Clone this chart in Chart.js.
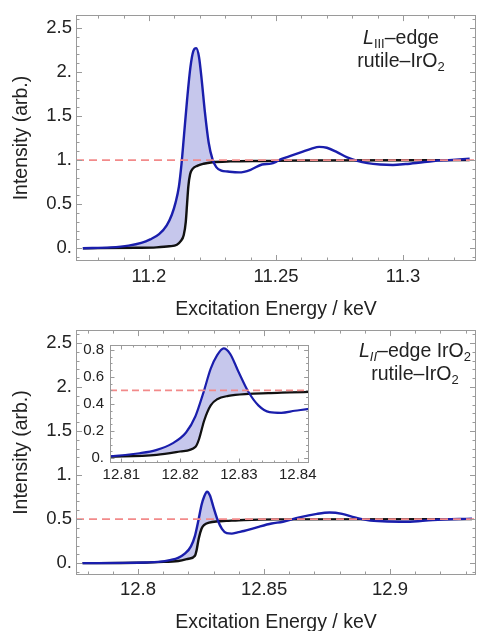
<!DOCTYPE html>
<html><head><meta charset="utf-8">
<script src="https://cdn.jsdelivr.net/npm/chart.js@4.4.1/dist/chart.umd.min.js"></script>
<style>
html,body{margin:0;padding:0;background:#fff;width:477px;height:631px;overflow:hidden;position:relative;}
canvas{position:absolute;}
.note{position:absolute;font-family:'Liberation Sans',Arial,sans-serif;font-size:19.5px;line-height:23px;color:#222;text-align:center;white-space:nowrap;}
.note sub{font-size:13px;vertical-align:-4px;line-height:0;}
</style></head><body>
<canvas id="c1" width="477" height="321" style="left:0;top:0"></canvas>
<canvas id="c2" width="477" height="316" style="left:0;top:315px"></canvas>
<canvas id="c3" width="260" height="170" style="left:60px;top:330px"></canvas>
<div class="note" style="left:341px;top:26px;width:120px"><i>L</i><sub>III</sub>–edge<br>rutile–IrO<sub>2</sub></div>
<div class="note" style="left:350px;top:339px;width:130px"><i>L</i><sub><i>II</i></sub>–edge IrO<sub>2</sub><br>rutile–IrO<sub>2</sub></div>
<script>
// ---------- data ----------
// L3 edge (top panel)
const l3Energy = [11.174,11.185,11.192,11.197,11.2005,11.204,11.207,11.209,11.2105,11.2118,11.2128,11.2138,11.2150,11.2163,11.2175,11.2186,11.2197,11.2208,11.2220,11.2235,11.2250,11.2265,11.2285,11.2310,11.2355,11.2400,11.2445,11.2480,11.2500,11.2520,11.2560,11.2600,11.2640,11.2670,11.2700,11.2740,11.2780,11.2820,11.2860,11.2910,11.2960,11.3010,11.3060,11.3120,11.3180,11.3262];
const l3Blue   = [0.0,0.01,0.03,0.06,0.10,0.16,0.26,0.38,0.52,0.70,0.95,1.28,1.68,2.05,2.24,2.27,2.17,1.90,1.55,1.20,1.01,0.92,0.88,0.87,0.86,0.89,0.95,0.96,0.98,1.01,1.05,1.09,1.13,1.15,1.14,1.09,1.03,0.99,0.965,0.95,0.945,0.955,0.97,0.99,1.0,1.015];
const l3StepEnergy = [11.174,11.195,11.203,11.208,11.2110,11.2125,11.2137,11.2145,11.2150,11.2155,11.2162,11.2172,11.2190,11.2215,11.2250,11.2320,11.2450,11.2600,11.3262];
const l3Step       = [0.0,0.005,0.01,0.022,0.04,0.08,0.15,0.30,0.50,0.70,0.84,0.90,0.935,0.958,0.975,0.985,0.99,0.995,1.0];
const l3EdgeJump = 1.0;
const l3FillEnd = 11.227;

// L2 edge (bottom panel + inset)
const l2Energy = [12.778,12.795,12.803,12.808,12.8131,12.8159,12.8187,12.821,12.8226,12.824,12.8252,12.8263,12.8274,12.8285,12.8299,12.8316,12.8333,12.8352,12.8372,12.8395,12.842,12.8475,12.853,12.8575,12.864,12.871,12.876,12.881,12.886,12.891,12.897,12.9068,12.917,12.9325];
const l2Blue   = [0.0,0.003,0.008,0.014,0.037,0.06,0.11,0.19,0.31,0.49,0.66,0.76,0.81,0.77,0.64,0.49,0.39,0.34,0.335,0.35,0.365,0.41,0.45,0.47,0.52,0.56,0.575,0.56,0.52,0.49,0.475,0.47,0.49,0.505];
const l2StepEnergy = [12.778,12.800,12.8079,12.816,12.820,12.8226,12.8232,12.8241,12.8252,12.8263,12.8282,12.8316,12.835,12.842,12.855,12.9325];
const l2Step       = [0.0,0.004,0.012,0.025,0.05,0.084,0.14,0.28,0.39,0.435,0.46,0.475,0.48,0.49,0.497,0.5];
const l2EdgeJump = 0.5;
const l2FillEnd = 12.834;

// axes
const topXRange = [11.1713, 11.3287];
const topYRange = [-0.145, 2.645];
const topXTicks = [11.2, 11.25, 11.3];
const topXLabels = ['11.2', '11.25', '11.3'];
const mainYTicks = [0, 0.5, 1, 1.5, 2, 2.5];
const mainYLabels = ['0.', '0.5', '1.', '1.5', '2.', '2.5'];
const botXRange = [12.7754, 12.9341];
const botYRange = [-0.1345, 2.646];
const botXTicks = [12.8, 12.85, 12.9];
const botXLabels = ['12.8', '12.85', '12.9'];
const insetXRange = [12.80807, 12.84185];
const insetYRange = [-0.035, 0.835];
const insetXTicks = [12.81, 12.82, 12.83, 12.84];
const insetXLabels = ['12.81', '12.82', '12.83', '12.84'];
const insetYTicks = [0, 0.2, 0.4, 0.6, 0.8];
const insetYLabels = ['0.', '0.2', '0.4', '0.6', '0.8'];
const xTitle = 'Excitation Energy / keV';
const yTitle = 'Intensity (arb.)';

// ---------- drawing ----------
const FONT = "'Liberation Sans', Arial, sans-serif";
const BLUE = '#1a1eac';
const FILL = 'rgb(198,199,236)';
const pts = (xs, ys) => xs.map((x, i) => ({x, y: ys[i]}));

const framePlugin = {
  id: 'frame',
  afterDatasetsDraw(chart, args, o) {
    const {ctx, chartArea: a, scales: {x, y}} = chart;
    ctx.save();
    ctx.strokeStyle = o.color; ctx.lineWidth = 1;
    const tickSet = (scale, step, majors) => {
      const out = [];
      const start = Math.ceil(scale.min / step - 1e-6);
      for (let k = start; k * step <= scale.max + 1e-9; k++) {
        const v = k * step;
        out.push({p: scale.getPixelForValue(v), major: majors.some(m => Math.abs(m - v) < step * 0.01)});
      }
      return out;
    };
    ctx.beginPath();
    for (const t of tickSet(x, o.xStep, o.xMajor)) {
      const L = t.major ? o.maj : o.min, px = Math.round(t.p) + 0.5;
      ctx.moveTo(px, a.bottom); ctx.lineTo(px, a.bottom - L);
      ctx.moveTo(px, a.top); ctx.lineTo(px, a.top + L);
    }
    for (const t of tickSet(y, o.yStep, o.yMajor)) {
      const L = t.major ? o.maj : o.min, py = Math.round(t.p) + 0.5;
      ctx.moveTo(a.left, py); ctx.lineTo(a.left + L, py);
      ctx.moveTo(a.right, py); ctx.lineTo(a.right - L, py);
    }
    ctx.stroke();
    ctx.strokeRect(Math.round(a.left) + 0.5, Math.round(a.top) + 0.5, Math.round(a.right - a.left) - 1, Math.round(a.bottom - a.top) - 1);
    ctx.restore();
  }
};

function panel(id, o) {
  const blue = pts(o.bE, o.bI);
  const black = pts(o.kE, o.kI);
  return new Chart(document.getElementById(id), {
    type: 'line',
    data: { datasets: [
      {data: [{x: o.xr[0], y: o.ref}, {x: o.xr[1], y: o.ref}], borderColor: '#f28a8a', borderWidth: 1.7, borderDash: o.dash, pointRadius: 0, fill: false, order: 0},
      {data: blue, borderColor: BLUE, borderWidth: o.lw, pointRadius: 0, cubicInterpolationMode: 'monotone', fill: false, order: 1},
      {data: black, borderColor: '#111', borderWidth: o.lw, pointRadius: 0, cubicInterpolationMode: 'monotone', fill: false, order: 2},
      {data: blue.filter(p => p.x <= o.fillEnd), borderWidth: 0, borderColor: 'rgba(0,0,0,0)', pointRadius: 0, cubicInterpolationMode: 'monotone',
       backgroundColor: FILL, fill: {target: 2, above: FILL, below: 'rgba(0,0,0,0)'}, order: 3}
    ]},
    options: {
      responsive: false, animation: false, devicePixelRatio: 1,
      layout: {padding: o.pad},
      plugins: {legend: {display: false}, tooltip: {enabled: false},
        frame: {color: '#9a9a9a', xStep: o.xStep, xMajor: o.xT, yStep: o.yStep, yMajor: o.yT, maj: o.maj, min: o.minL}},
      scales: {
        x: {type: 'linear', min: o.xr[0], max: o.xr[1],
          grid: {display: false, drawTicks: false}, border: {display: false},
          afterBuildTicks: s => { s.ticks = o.xT.map(v => ({value: v})); },
          afterFit: s => { s.height = o.xH; },
          ticks: {autoSkip: false, maxRotation: 0, minRotation: 0, padding: o.xPad, color: '#222', font: {family: FONT, size: o.fs},
            callback: v => o.xL[o.xT.indexOf(v)]},
          title: o.titles ? {display: true, text: xTitle, color: '#222', font: {family: FONT, size: 19.5}, padding: {top: 0, bottom: o.xTPad}} : {display: false}
        },
        y: {type: 'linear', min: o.yr[0], max: o.yr[1],
          grid: {display: false, drawTicks: false}, border: {display: false},
          afterBuildTicks: s => { s.ticks = o.yT.map(v => ({value: v})); },
          afterFit: s => { s.width = o.yW; },
          ticks: {autoSkip: false, padding: o.yPad, color: '#222', font: {family: FONT, size: o.fs},
            callback: v => o.yL[o.yT.indexOf(v)]},
          title: o.titles ? {display: true, text: yTitle, color: '#222', font: {family: FONT, size: 19.5}, padding: {top: 10, bottom: 0}} : {display: false}
        }
      }
    },
    plugins: [framePlugin]
  });
}

panel('c1', {bE: l3Energy, bI: l3Blue, kE: l3StepEnergy, kI: l3Step, ref: l3EdgeJump, fillEnd: l3FillEnd,
  xr: topXRange, yr: topYRange, xT: topXTicks, xL: topXLabels, yT: mainYTicks, yL: mainYLabels,
  pad: {top: 11, right: 1, left: 0, bottom: 0}, xH: 60, yW: 76, xPad: 5, yPad: 4, xTPad: 0, fs: 18.5, titles: true,
  lw: 2.4, dash: [8, 5], xStep: 0.01, yStep: 0.1, maj: 6, minL: 3.5});

panel('c2', {bE: l2Energy, bI: l2Blue, kE: l2StepEnergy, kI: l2Step, ref: l2EdgeJump, fillEnd: l2FillEnd,
  xr: botXRange, yr: botYRange, xT: botXTicks, xL: botXLabels, yT: mainYTicks, yL: mainYLabels,
  pad: {top: 12, right: 1, left: 0, bottom: 0}, xH: 56, yW: 76, xPad: 4, yPad: 4, xTPad: -3, fs: 18.5, titles: true,
  lw: 2.4, dash: [8, 5], xStep: 0.01, yStep: 0.1, maj: 6, minL: 3.5});

panel('c3', {bE: l2Energy, bI: l2Blue, kE: l2StepEnergy, kI: l2Step, ref: l2EdgeJump, fillEnd: l2FillEnd,
  xr: insetXRange, yr: insetYRange, xT: insetXTicks, xL: insetXLabels, yT: insetYTicks, yL: insetYLabels,
  pad: {top: 9, right: 9, left: 0, bottom: 0}, xH: 37, yW: 50, xPad: 3, yPad: 6, xTPad: 0, fs: 15, titles: false,
  lw: 2.2, dash: [7, 4], xStep: 0.002, yStep: 0.05, maj: 4.5, minL: 2.5});
</script>
</body></html>
